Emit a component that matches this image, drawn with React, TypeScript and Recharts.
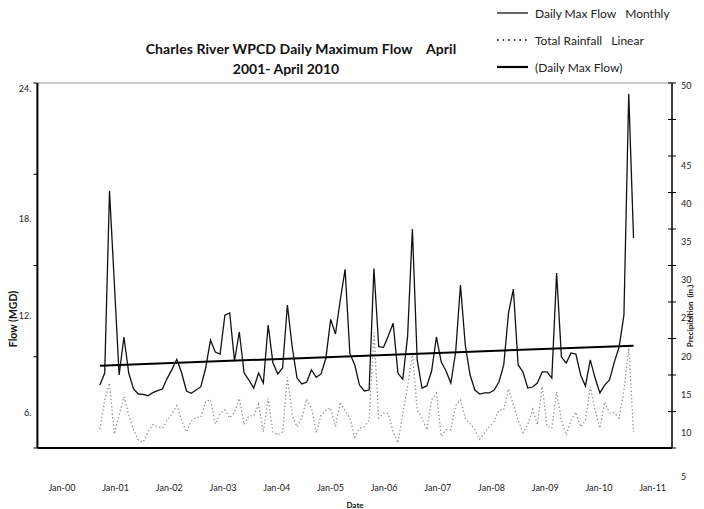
import { ComposedChart, Line, XAxis, YAxis, ReferenceLine } from "recharts";

// monthly samples; first sample sits 13 months past the left edge of the date axis
const FIRST_MONTH = 13;
const AXIS_MONTHS = 132;

const flowValues = [
  4.14, 4.93, 16.9, 10.85, 4.8, 7.3, 4.93, 3.88, 3.55, 3.53, 3.44, 3.64,
  3.77, 3.88, 4.58, 5.17, 5.83, 4.95, 3.75, 3.6, 3.81, 4.03, 5.26, 7.1,
  6.31, 6.18, 8.74, 8.88, 5.72, 7.63, 4.93, 4.47, 3.94, 4.93, 4.27, 8.09,
  5.59, 4.87, 5.26, 9.4, 6.64, 4.6, 4.21, 4.32, 5.13, 4.65, 4.87, 5.9,
  8.46, 7.5, 9.73, 11.75, 6.2, 5.47, 4.14, 3.75, 3.81, 11.8, 6.66, 6.62,
  7.38, 8.2, 4.91, 4.52, 7.32, 14.4, 5.79, 3.94, 4.08, 5.06, 7.3, 5.65,
  5.06, 4.27, 6.31, 10.72, 6.77, 4.8, 3.81, 3.55, 3.62, 3.62, 3.81, 4.34,
  5.46, 8.88, 10.45, 5.46, 5.0, 3.94, 4.01, 4.27, 5.0, 5.0, 4.6, 11.5,
  5.98, 5.59, 6.25, 6.18, 4.8, 4.08, 5.79, 4.6, 3.62, 4.14, 4.47, 5.65,
  6.64, 8.74, 23.27, 13.8,
];

const rainValues = [
  2.6, 6.6, 8.9, 1.9, 4.5, 7.0, 4.5, 2.5, 1.1, 0.8, 2.2, 3.2,
  2.9, 2.7, 3.8, 4.7, 5.8, 3.8, 2.2, 3.7, 4.2, 4.2, 6.4, 6.6,
  3.3, 4.7, 5.2, 4.1, 4.9, 6.8, 3.2, 4.4, 4.4, 6.0, 2.2, 6.8,
  2.2, 1.8, 2.2, 9.7, 4.5, 2.9, 4.1, 6.7, 5.5, 2.1, 4.5, 5.2,
  5.5, 2.9, 6.3, 5.1, 4.1, 1.5, 2.7, 2.9, 3.8, 15.8, 4.1, 4.8,
  4.7, 2.2, 0.7, 4.7, 8.4, 13.0, 5.2, 4.1, 2.5, 6.6, 7.5, 1.6,
  2.5, 2.5, 5.8, 6.6, 4.1, 3.3, 2.5, 1.2, 2.1, 2.9, 3.6, 5.2,
  5.2, 8.1, 5.9, 3.8, 2.1, 3.2, 5.3, 3.2, 8.4, 3.0, 2.7, 7.7,
  3.8, 1.8, 3.8, 4.9, 2.9, 3.8, 8.4, 5.2, 2.7, 6.3, 4.8, 4.8,
  4.1, 7.9, 13.7, 2.2,
];

// linear trend of daily max flow, read at its two ends
const trendStart = 5.41;
const trendEnd = 6.73;

const yearLabels = [
  "Jan-00", "Jan-01", "Jan-02", "Jan-03", "Jan-04", "Jan-05",
  "Jan-06", "Jan-07", "Jan-08", "Jan-09", "Jan-10", "Jan-11",
];

const flowTicks = [0, 6, 12, 18, 24];
const flowTickLabels = ["", "6.", "12.", "18.", "24."];
const rainTicks = [0, 5, 10, 15, 20, 25, 30, 35, 40, 45, 50];
const rainTickLabels = ["5", "10", "15", "20", "25", "30", "35", "40", "45", "", "50"];

const last = flowValues.length - 1;
const data = flowValues.map((flow, i) => ({
  month: FIRST_MONTH + i,
  flow,
  rain: rainValues[i],
  trend: i === 0 ? trendStart : i === last ? trendEnd : undefined,
}));

// tick marks every 12 months; the date labels sit on their own, slightly wider spacing
const monthTicks = Array.from({ length: 12 }, (_, k) => k * 12);
const LABEL_START = 5.1;
const LABEL_STEP = 11.17;
const yearTicks = yearLabels.map((_, k) => LABEL_START + LABEL_STEP * k);

const FONT = "Lato, 'Open Sans', sans-serif";

function FlowTick(props: any) {
  const { x, y, payload } = props;
  const i = flowTicks.indexOf(payload.value);
  const label = flowTickLabels[i];
  if (!label) return <g />;
  const dy = payload.value === 24 ? 5 : 38 + 6 * (4 - i);
  return (
    <text x={x} y={y + dy} textAnchor="end" dominantBaseline="central" fontSize={9} fill="#222" fontFamily={FONT}>
      {label}
    </text>
  );
}

function RainTick(props: any) {
  const { x, y, payload } = props;
  const i = rainTicks.indexOf(payload.value);
  const label = rainTickLabels[i];
  const axisX = x - 8;
  const dy = i === 0 ? 28 : i === 10 ? 2 : 22.7 - 1.7 * i;
  return (
    <g>
      <line x1={axisX - 4} x2={axisX + 4} y1={y} y2={y} stroke="#000" strokeWidth={1} />
      {label && (
        <text x={x + 1} y={y + dy} textAnchor="start" dominantBaseline="central" fontSize={9} fill="#222" fontFamily={FONT}>
          {label}
        </text>
      )}
    </g>
  );
}

function YearTick(props: any) {
  const { x, y, payload } = props;
  const label = yearLabels[Math.round((payload.value - LABEL_START) / LABEL_STEP)];
  return (
    <text x={x} y={y + 9} textAnchor="middle" dominantBaseline="central" fontSize={9} fill="#222" fontFamily={FONT}>
      {label}
    </text>
  );
}

const abs = (left: number, top: number, extra: any = {}) => ({
  position: "absolute" as const,
  left,
  top,
  transform: "translate(-50%, -50%)",
  whiteSpace: "pre" as const,
  fontFamily: FONT,
  color: "#111",
  ...extra,
});

export default function App() {
  return (
    <div style={{ position: "absolute", left: 0, top: 0, width: 704, height: 509, background: "#fff" }}>
      <ComposedChart width={704} height={509} data={data} margin={{ top: 83, right: 2, bottom: 0, left: 7.4 }}>
        <XAxis
          xAxisId="months"
          dataKey="month"
          type="number"
          domain={[0, AXIS_MONTHS]}
          ticks={monthTicks}
          tick={false}
          tickSize={5}
          height={30}
          axisLine={{ stroke: "#000", strokeWidth: 2 }}
          tickLine={{ stroke: "#000", strokeWidth: 1 }}
        />
        <XAxis
          xAxisId="years"
          dataKey="month"
          type="number"
          domain={[0, AXIS_MONTHS]}
          ticks={yearTicks}
          interval={0}
          allowDataOverflow
          axisLine={false}
          tickLine={false}
          tickSize={0}
          tickMargin={0}
          height={31}
          tick={(p: any) => <YearTick {...p} />}
        />
        <YAxis
          yAxisId="flow"
          orientation="left"
          domain={[0, 24]}
          ticks={flowTicks}
          width={30}
          tickSize={4}
          tickMargin={2}
          axisLine={{ stroke: "#000", strokeWidth: 2 }}
          tickLine={{ stroke: "#000", strokeWidth: 1 }}
          tick={(p: any) => <FlowTick {...p} />}
        />
        <YAxis
          yAxisId="rain"
          orientation="right"
          domain={[0, 50]}
          ticks={rainTicks}
          width={30}
          tickSize={4}
          tickMargin={4}
          tickLine={false}
          axisLine={{ stroke: "#000", strokeWidth: 1.5 }}
          tick={(p: any) => <RainTick {...p} />}
        />
        <ReferenceLine xAxisId="months" yAxisId="flow" y={24} stroke="#9a9a9a" strokeWidth={1} />
        {/* invisible series so the label axis has data bound to it */}
        <Line
          xAxisId="years"
          yAxisId="flow"
          dataKey="flow"
          stroke="none"
          dot={false}
          activeDot={false}
          legendType="none"
          isAnimationActive={false}
        />
        <Line
          xAxisId="months"
          yAxisId="rain"
          dataKey="rain"
          type="linear"
          stroke="#8c8c8c"
          strokeWidth={1.3}
          strokeDasharray="1.3 2.4"
          dot={false}
          isAnimationActive={false}
        />
        <Line
          xAxisId="months"
          yAxisId="flow"
          dataKey="flow"
          type="linear"
          stroke="#111"
          strokeWidth={1.3}
          dot={false}
          isAnimationActive={false}
        />
        <Line
          xAxisId="months"
          yAxisId="flow"
          dataKey="trend"
          type="linear"
          stroke="#000"
          strokeWidth={2}
          connectNulls
          dot={false}
          isAnimationActive={false}
        />
      </ComposedChart>

      <div style={abs(301, 48, { fontSize: 14, fontWeight: 700, letterSpacing: 0.1 })}>Charles River WPCD Daily Maximum Flow    April</div>
      <div style={abs(286, 68, { fontSize: 14, fontWeight: 700 })}>2001- April 2010</div>

      <svg width={214} height={80} style={{ position: "absolute", left: 490, top: 0 }}>
        <line x1={7} x2={38} y1={13} y2={13} stroke="#000" strokeWidth={1.2} />
        <text x={45} y={13} dominantBaseline="central" fontSize={12} fill="#222" fontFamily={FONT} style={{ whiteSpace: "pre" }}>
          Daily Max Flow   Monthly
        </text>
        <line x1={7} x2={38} y1={40} y2={40} stroke="#000" strokeWidth={1.6} strokeDasharray="1.6 4" />
        <text x={45} y={40} dominantBaseline="central" fontSize={12} fill="#222" fontFamily={FONT} style={{ whiteSpace: "pre" }}>
          Total Rainfall   Linear
        </text>
        <line x1={7} x2={38} y1={67} y2={67} stroke="#000" strokeWidth={2.2} />
        <text x={45} y={67} dominantBaseline="central" fontSize={12} fill="#222" fontFamily={FONT}>
          (Daily Max Flow)
        </text>
      </svg>

      <div style={abs(13, 319, { fontSize: 10.5, fontWeight: 700, transform: "translate(-50%, -50%) rotate(-90deg)" })}>Flow (MGD)</div>
      <div style={abs(690, 316, { fontSize: 8, fontWeight: 700, transform: "translate(-50%, -50%) rotate(-90deg)" })}>Precipitation  (in.)</div>
      <div style={abs(355, 505, { fontSize: 8, fontWeight: 700 })}>Date</div>
    </div>
  );
}
